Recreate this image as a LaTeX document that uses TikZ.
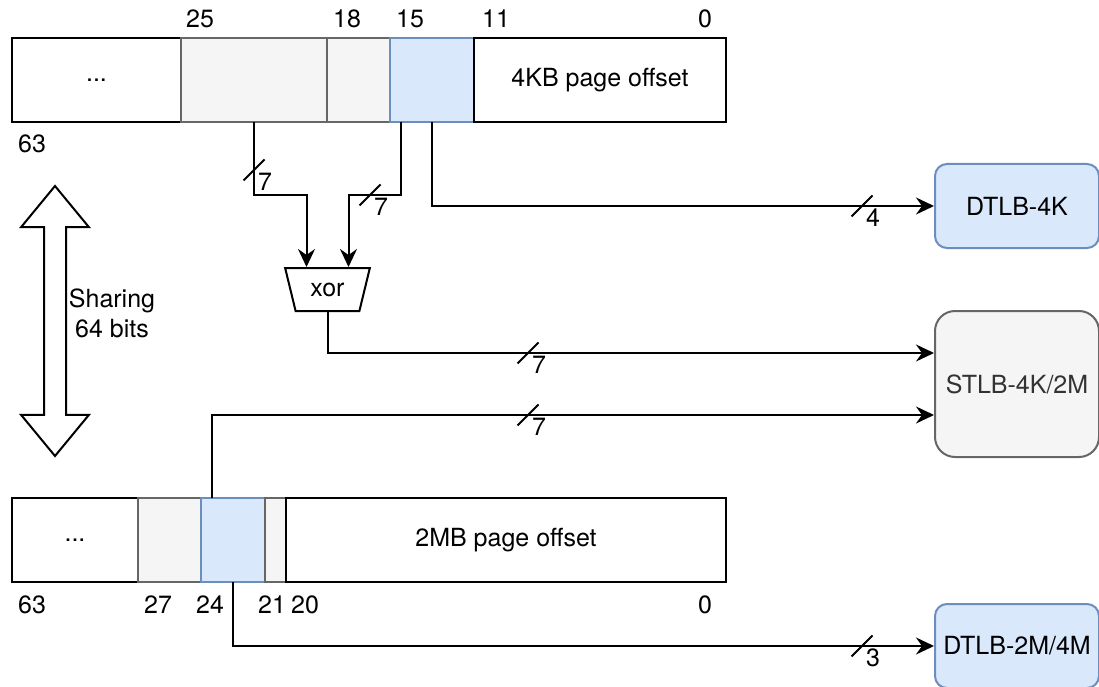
\documentclass[tikz,border=0pt]{standalone}
\usepackage{fontspec}
\setmainfont{TeX Gyre Heros}
\usepackage{tikz}
\usetikzlibrary{shapes.geometric,shapes.arrows,arrows.meta,positioning}

\definecolor{bluefill}{HTML}{DAE8FC}
\definecolor{blueline}{HTML}{6C8EBF}
\definecolor{grayfill}{HTML}{F5F5F5}
\definecolor{grayline}{HTML}{666666}
\definecolor{graytext}{HTML}{333333}
\newcommand{\bitfont}{\fontsize{25pt}{30pt}\selectfont}

\begin{document}
\begin{tikzpicture}[
    x=1pt, y=-1pt,
    font=\bitfont,
    seg/.style={rectangle, draw, line width=2pt, minimum height=84pt, inner sep=0pt, outer sep=0pt, fill=white},
    grayseg/.style={seg, draw=grayline, fill=grayfill},
    blueseg/.style={seg, draw=blueline, fill=bluefill},
    tlb/.style={rectangle, rounded corners=12pt, draw=blueline, fill=bluefill, line width=2pt, minimum width=164pt, minimum height=84pt, inner sep=0pt},
    stlbbox/.style={tlb, rounded corners=20pt, draw=grayline, fill=grayfill, text=graytext, minimum height=146pt},
    bitnum/.style={inner sep=0pt},
    bus/.style={line width=2pt},
    arrow/.style={bus, -{Stealth[length=18pt, width=17pt, inset=6pt]}},
    pics/busmark/.style={code={
        \draw[bus] (-10.5,10.5) -- (10.5,-10.5);
        \node[bitnum] at (11,12) {#1};}}
]
    \useasboundingbox (0,0) rectangle (1099,687);

    % 4KB page layout
    \node[seg, minimum width=169pt, anchor=north west] (dots4k) at (12,38) {...};
    \node[grayseg, minimum width=146pt, right=0pt of dots4k] (hi4k) {};
    \node[grayseg, minimum width=63pt, right=0pt of hi4k] (mid4k) {};
    \node[blueseg, minimum width=84pt, right=0pt of mid4k] (idx4k) {};
    \node[seg, minimum width=252pt, right=0pt of idx4k] (off4k) {4KB page offset};
    \foreach \n/\x in {25/200, 18/347, 15/410, 11/496, 0/705}
        \node[bitnum] (top\n) at (\x,19) {\n};
    \node[bitnum] (top63) at (32,144) {63};

    % 2MB page layout
    \node[seg, minimum width=126pt, anchor=north west] (dots2m) at (12,498) {...};
    \node[grayseg, minimum width=63pt, right=0pt of dots2m] (hi2m) {};
    \node[blueseg, minimum width=64pt, right=0pt of hi2m] (idx2m) {};
    \node[grayseg, minimum width=21pt, right=0pt of idx2m] (lo2m) {};
    \node[seg, minimum width=440pt, right=0pt of lo2m] (off2m) {2MB page offset};
    \foreach \n/\x in {63/32, 27/158, 24/210, 21/272, 20/305, 0/705}
        \node[bitnum] (bot\n) at (\x,605) {\n};

    % shared bits
    \node[double arrow, draw, line width=2pt, fill=white, rotate=90, minimum height=270pt, minimum width=66pt,
          double arrow head extend=23pt, double arrow tip angle=79, inner sep=10pt] (share) at (55,321) {};
    \node[align=center, inner sep=0pt] (sharetxt) at (112,313) {Sharing\\64 bits};

    % hash and TLBs
    \node[trapezium, draw, line width=2pt, shape border rotate=180, trapezium stretches=true,
          trapezium left angle=68, trapezium right angle=68, minimum width=85pt, minimum height=43pt, inner sep=0pt] (xor) at (327.5,289.5) {xor};
    \node[tlb] (dtlb4k) at (1017,206) {DTLB-4K};
    \node[stlbbox] (stlb) at (1017,384) {STLB-4K/2M};
    \node[tlb] (dtlb2m) at (1017,646) {DTLB-2M/4M};

    \draw[arrow] (hi4k.south) -- ++(0,73) -| ([xshift=-21pt]xor.north);
    \draw[arrow] ([xshift=11pt]idx4k.south west) -- ++(0,73) -| ([xshift=21pt]xor.north);
    \draw[arrow] (idx4k.south) |- (dtlb4k.west);
    \draw[arrow] (xor.south) |- ([yshift=31pt]stlb.west);
    \draw[arrow] ([xshift=11pt]idx2m.north west) |- ([yshift=-31pt]stlb.west);
    \draw[arrow] (idx2m.south) |- (dtlb2m.west);

    \pic at (254,170) {busmark=7};
    \pic at (370,195) {busmark=7};
    \pic at (862,206) {busmark=4};
    \pic at (528,353) {busmark=7};
    \pic at (528,415) {busmark=7};
    \pic at (862,646) {busmark=3};
\end{tikzpicture}
\end{document}
